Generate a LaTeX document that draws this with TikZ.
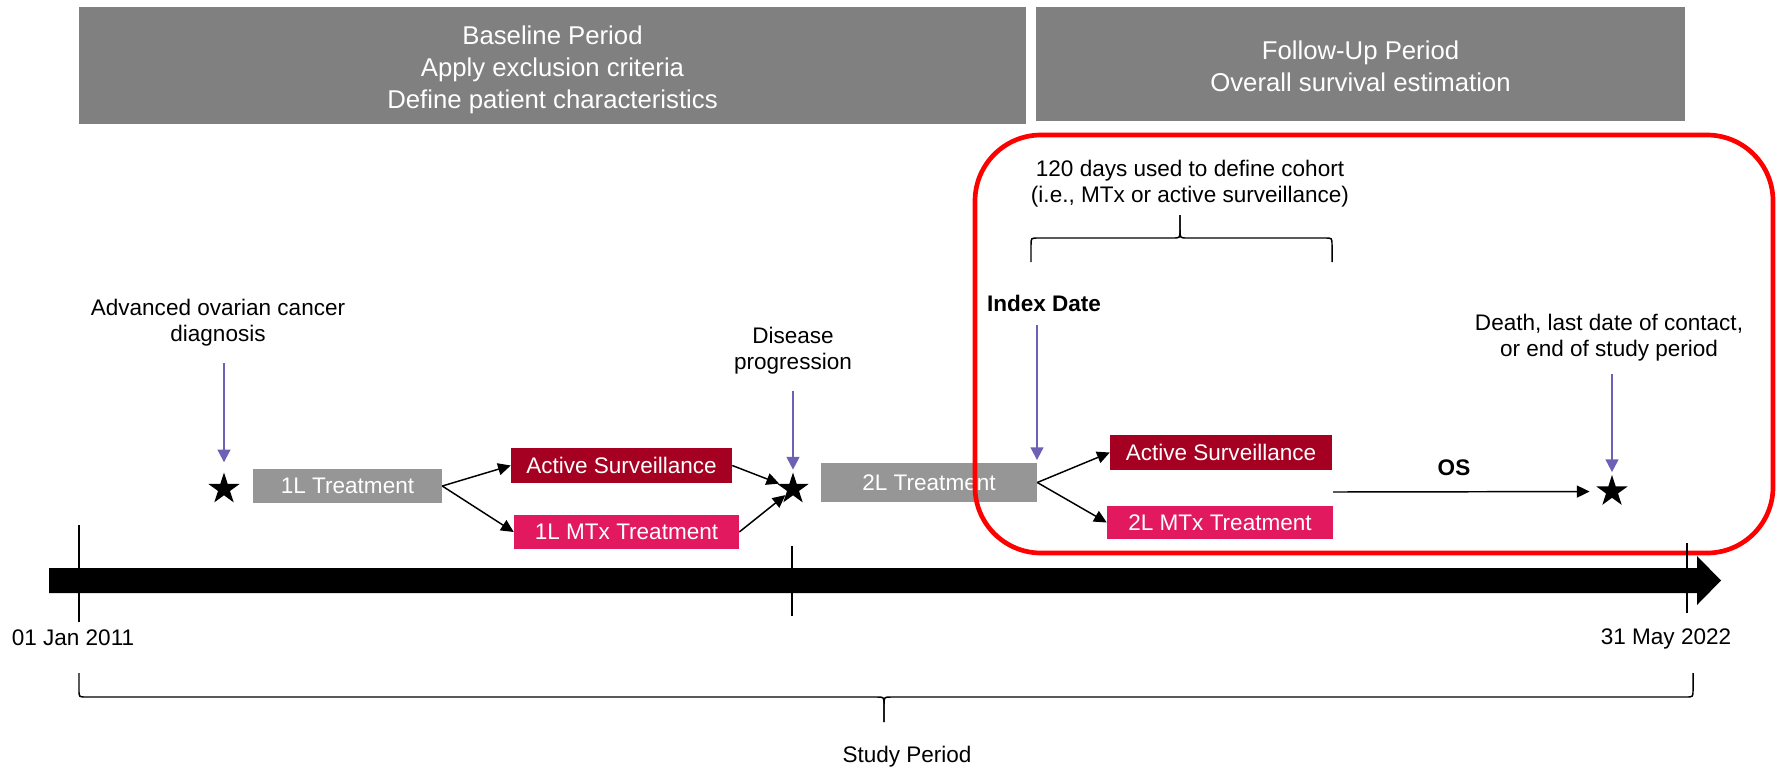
\documentclass[tikz,border=0pt]{standalone}
\usepackage{fontspec}
\setmainfont{Liberation Sans}
\usetikzlibrary{arrows.meta,shapes.geometric}
\definecolor{bannergray}{RGB}{128,128,128}
\definecolor{boxgray}{RGB}{150,150,150}
\definecolor{darkred}{RGB}{165,0,33}
\definecolor{pinkmtx}{RGB}{227,25,95}
\definecolor{purplearrow}{RGB}{110,96,180}
\begin{document}
\begin{tikzpicture}[x=0.75pt,y=-0.75pt,
 banner/.style={fill=bannergray, inner sep=0pt},
 bannertext/.style={text=white, align=center, inner sep=0pt, font=\fontsize{19.3}{24}\selectfont},
 tbox/.style={text=white, inner sep=0pt, font=\fontsize{16.9}{19.5}\selectfont},
 lbl/.style={align=center, inner sep=0pt, font=\fontsize{16.9}{19.5}\selectfont},
 boldlbl/.style={align=center, inner sep=0pt, font=\fontsize{16.9}{19.5}\selectfont\bfseries},
 starnode/.style={star, star points=5, star point ratio=2.618, fill=black, inner sep=0pt, minimum size=24.75pt},
 parrow/.style={draw=purplearrow, line width=1.5pt, -{Triangle[length=9.5pt,width=9.5pt]}},
 barrow/.style={draw=black, line width=1.1pt, -{Triangle[length=9.5pt,width=9pt]}},
 bracestyle/.style={line width=1.1pt},
 tickline/.style={line width=1.1pt},
 redbox/.style={draw=red, line width=3.5pt, rounded corners=49.5pt},
]
\useasboundingbox (0,0) rectangle (1777,768);

% banners
\node[banner, minimum width=710.25pt, minimum height=87.75pt] (b1) at (552.5,65.5) {};
\node[bannertext] (b1t) at (552.5,70)
  {Baseline Period\\Apply exclusion criteria\\Define patient characteristics};
\node[banner, minimum width=486.75pt, minimum height=85.5pt] (b2) at (1360.5,64) {};
\node[bannertext] (b2t) at (1360.5,66.5)
  {Follow-Up Period\\Overall survival estimation};

% labels
\node[lbl] (diag) at (218,323) {Advanced ovarian cancer\\diagnosis};
\node[lbl] (prog) at (793,351) {Disease\\progression};
\node[lbl] (death) at (1609,338) {Death, last date of contact,\\or end of study period};
\node[lbl] (cohort) at (1190,184) {120 days used to define cohort\\(i.e., MTx or active surveillance)};
\node[boldlbl] (index) at (1044,303) {Index Date};
\node[boldlbl] (os) at (1454,468) {OS};
\node[lbl] (start) at (73,638) {01 Jan 2011};
\node[lbl] (end) at (1666,639) {31 May 2022};
\node[lbl] (study) at (907,757) {Study Period};

% treatment boxes
\node[tbox, fill=boxgray, minimum width=141.75pt, minimum height=25.5pt] (tl1) at (347.5,486) {1L Treatment};
\node[tbox, fill=darkred, minimum width=165.75pt, minimum height=26.25pt] (as1) at (621.5,465.5) {Active Surveillance};
\node[tbox, fill=pinkmtx, minimum width=168.75pt, minimum height=25.5pt] (mtx1) at (626.5,532) {1L MTx Treatment};
\node[tbox, fill=boxgray, minimum width=162pt, minimum height=29.25pt] (tl2) at (929,482.5) {2L Treatment};
\node[tbox, fill=darkred, minimum width=166.5pt, minimum height=26.25pt] (as2) at (1221,452.5) {Active Surveillance};
\node[tbox, fill=pinkmtx, minimum width=169.5pt, minimum height=24.75pt] (mtx2) at (1220,522.5) {2L MTx Treatment};

% stars
\node[starnode] (s1) at (224,489) {};
\node[starnode] (s2) at (793,489) {};
\node[starnode] (s3) at (1612,491.5) {};

% purple arrows
\coordinate (p1) at (224,363);
\coordinate (p2) at (793,391);
\coordinate (p3) at (1612,374);
\coordinate (pidx) at (1037,325);
\draw[parrow, shorten >=7pt] (p1) -- (s1.north);
\draw[parrow, shorten >=1.5pt] (p2) -- (s2.north);
\draw[parrow, shorten >=1.5pt] (p3) -- (s3.north);
\draw[parrow, shorten >=2pt] (pidx) -- (pidx |- tl2.north);

% black arrows
\draw[barrow] (tl1.east) -- (as1.west);
\draw[barrow] (tl1.east) -- (mtx1.west);
\draw[barrow] (as1.east) -- (s2);
\draw[barrow] (mtx1.east) -- (s2);
\draw[barrow] (tl2.east) -- (as2.west);
\draw[barrow] (tl2.east) -- (mtx2.west);
\coordinate (osstart) at (1333,492);
\draw[barrow, shorten >=10pt] (osstart) -- (s3);

% red follow-up frame
\draw[redbox] (975,135) rectangle (1773,553);

% timeline
\fill[black] (49,568) -- (1697,568) -- (1697,556) -- (1721,580.5) -- (1697,605) -- (1697,593) -- (49,593) -- cycle;
\draw[tickline] (79,525) -- (79,622);
\draw[tickline] (792,546) -- (792,616);
\draw[tickline] (1687,543) -- (1687,613);

% top brace
\draw[bracestyle] (1031,262) -- (1031,245) .. controls (1031,238) .. (1038,238) -- (1173,238)
  .. controls (1180,238) .. (1180,230) -- (1180,215);
\draw[bracestyle] (1180,215) -- (1180,230) .. controls (1180,238) .. (1187,238) -- (1325,238)
  .. controls (1332,238) .. (1332,245) -- (1332,262);

% bottom brace
\draw[bracestyle] (79,673) -- (79,690) .. controls (79,697) .. (86,697) -- (877,697)
  .. controls (884,697) .. (884,705) -- (884,722);
\draw[bracestyle] (884,722) -- (884,705) .. controls (884,697) .. (891,697) -- (1686,697)
  .. controls (1693,697) .. (1693,690) -- (1693,673);
\end{tikzpicture}
\end{document}
